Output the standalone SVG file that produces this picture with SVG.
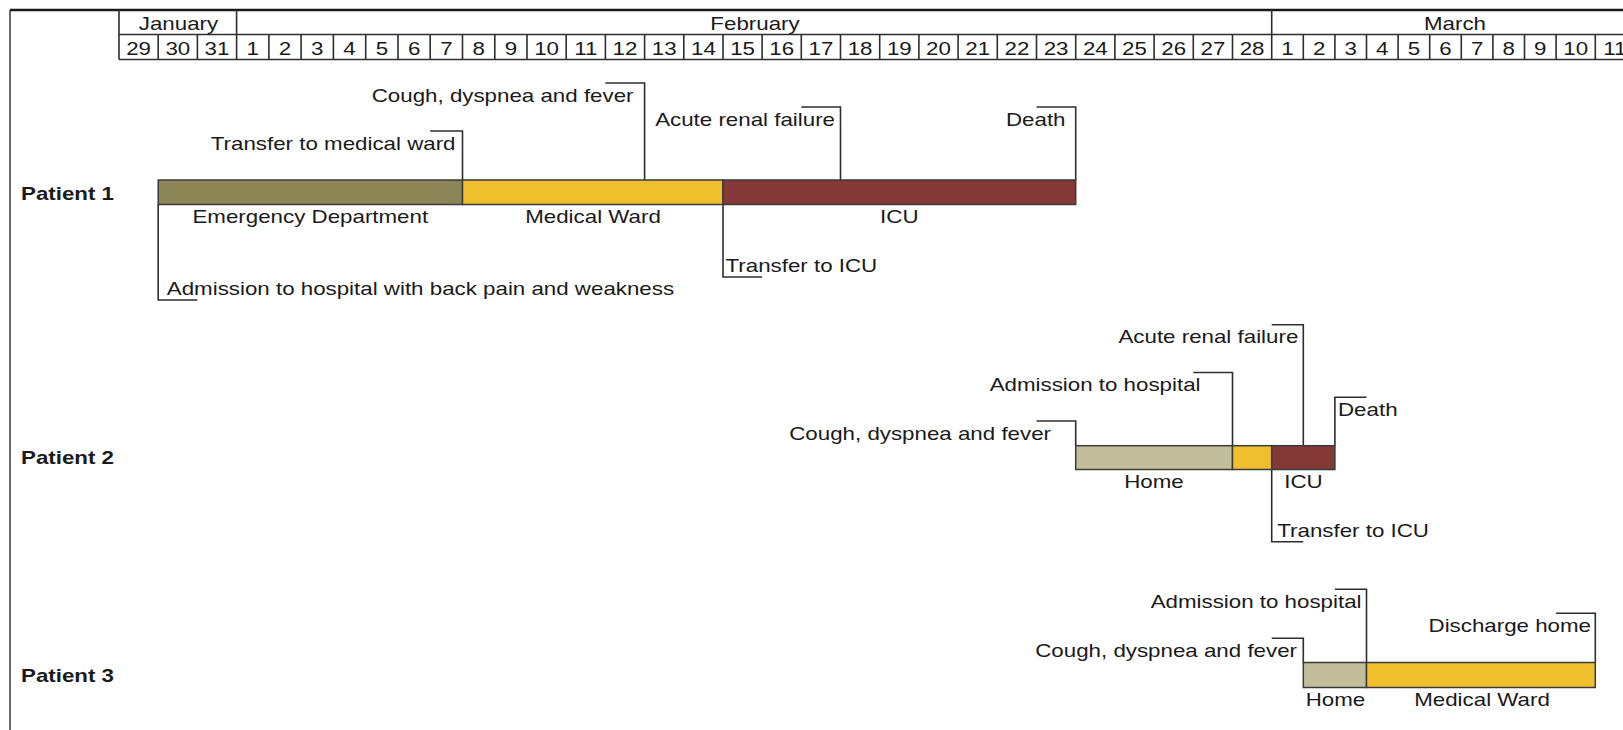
<svg xmlns="http://www.w3.org/2000/svg" width="1623" height="730" viewBox="0 0 1623 730">
<style>
text{font-family:"Liberation Sans",Arial,sans-serif;font-size:19px;fill:#1a1a1a}
.b{font-weight:bold}
.m{text-anchor:middle}
.e{text-anchor:end}
.ln{fill:none;stroke:#2e2e2e;stroke-width:1.6}
.bar{stroke:#3a3a3a;stroke-width:1.5}
.ed{fill:#8C8656}.mw{fill:#F0BF2E}.icu{fill:#843838}.home{fill:#C2BD9A}
</style>
<rect width="1623" height="730" fill="#fff"/>
<g id="frame">
<path d="M10 10V730" stroke="#6a6a6a" stroke-width="2" fill="none"/>
<path d="M10 10H1623" stroke="#1a1a1a" stroke-width="2.5" fill="none"/>
</g>
<g id="header">
<path class="ln" d="M119 10V59.5M236.6 10V59.5M1271.7 10V59.5M119 34.5H1623M119 59.5H1623"/>
<path class="ln" d="M158.2 34.5V59.5M197.4 34.5V59.5M268.9 34.5V59.5M301.1 34.5V59.5M333.4 34.5V59.5M365.7 34.5V59.5M398 34.5V59.5M430.2 34.5V59.5M462.5 34.5V59.5M494.8 34.5V59.5M527 34.5V59.5M566.2 34.5V59.5M605.4 34.5V59.5M644.6 34.5V59.5M683.8 34.5V59.5M723 34.5V59.5M762.1 34.5V59.5M801.3 34.5V59.5M840.5 34.5V59.5M879.7 34.5V59.5M918.9 34.5V59.5M958.1 34.5V59.5M997.3 34.5V59.5M1036.5 34.5V59.5M1075.7 34.5V59.5M1114.9 34.5V59.5M1154.1 34.5V59.5M1193.3 34.5V59.5M1232.5 34.5V59.5M1303.3 34.5V59.5M1334.9 34.5V59.5M1366.5 34.5V59.5M1398.1 34.5V59.5M1429.7 34.5V59.5M1461.3 34.5V59.5M1492.9 34.5V59.5M1524.5 34.5V59.5M1556.1 34.5V59.5M1595.3 34.5V59.5"/>
<text class="m" transform="translate(178.5 29.5) scale(1.175 1)">January</text>
<text class="m" transform="translate(755 29.5) scale(1.175 1)">February</text>
<text class="m" transform="translate(1455 29.5) scale(1.175 1)">March</text>
<g class="days">
<text class="m" transform="translate(138.6 55) scale(1.175 1)">29</text>
<text class="m" transform="translate(177.8 55) scale(1.175 1)">30</text>
<text class="m" transform="translate(217 55) scale(1.175 1)">31</text>
<text class="m" transform="translate(252.75 55) scale(1.175 1)">1</text>
<text class="m" transform="translate(285 55) scale(1.175 1)">2</text>
<text class="m" transform="translate(317.25 55) scale(1.175 1)">3</text>
<text class="m" transform="translate(349.55 55) scale(1.175 1)">4</text>
<text class="m" transform="translate(381.85 55) scale(1.175 1)">5</text>
<text class="m" transform="translate(414.1 55) scale(1.175 1)">6</text>
<text class="m" transform="translate(446.35 55) scale(1.175 1)">7</text>
<text class="m" transform="translate(478.65 55) scale(1.175 1)">8</text>
<text class="m" transform="translate(510.9 55) scale(1.175 1)">9</text>
<text class="m" transform="translate(546.6 55) scale(1.175 1)">10</text>
<text class="m" transform="translate(585.8 55) scale(1.175 1)">11</text>
<text class="m" transform="translate(625 55) scale(1.175 1)">12</text>
<text class="m" transform="translate(664.2 55) scale(1.175 1)">13</text>
<text class="m" transform="translate(703.4 55) scale(1.175 1)">14</text>
<text class="m" transform="translate(742.55 55) scale(1.175 1)">15</text>
<text class="m" transform="translate(781.7 55) scale(1.175 1)">16</text>
<text class="m" transform="translate(820.9 55) scale(1.175 1)">17</text>
<text class="m" transform="translate(860.1 55) scale(1.175 1)">18</text>
<text class="m" transform="translate(899.3 55) scale(1.175 1)">19</text>
<text class="m" transform="translate(938.5 55) scale(1.175 1)">20</text>
<text class="m" transform="translate(977.7 55) scale(1.175 1)">21</text>
<text class="m" transform="translate(1016.9 55) scale(1.175 1)">22</text>
<text class="m" transform="translate(1056.1 55) scale(1.175 1)">23</text>
<text class="m" transform="translate(1095.3 55) scale(1.175 1)">24</text>
<text class="m" transform="translate(1134.5 55) scale(1.175 1)">25</text>
<text class="m" transform="translate(1173.7 55) scale(1.175 1)">26</text>
<text class="m" transform="translate(1212.9 55) scale(1.175 1)">27</text>
<text class="m" transform="translate(1252.1 55) scale(1.175 1)">28</text>
<text class="m" transform="translate(1287.5 55) scale(1.175 1)">1</text>
<text class="m" transform="translate(1319.1 55) scale(1.175 1)">2</text>
<text class="m" transform="translate(1350.7 55) scale(1.175 1)">3</text>
<text class="m" transform="translate(1382.3 55) scale(1.175 1)">4</text>
<text class="m" transform="translate(1413.9 55) scale(1.175 1)">5</text>
<text class="m" transform="translate(1445.5 55) scale(1.175 1)">6</text>
<text class="m" transform="translate(1477.1 55) scale(1.175 1)">7</text>
<text class="m" transform="translate(1508.7 55) scale(1.175 1)">8</text>
<text class="m" transform="translate(1540.3 55) scale(1.175 1)">9</text>
<text class="m" transform="translate(1575.7 55) scale(1.175 1)">10</text>
<text class="m" transform="translate(1614.9 55) scale(1.175 1)">11</text>
</g>
</g>
<g id="connectors">
<path class="ln" d="M605.4 83H644.6V180"/>
<path class="ln" d="M430.2 131H462.5V180"/>
<path class="ln" d="M801.3 107H840.5V180"/>
<path class="ln" d="M1036.5 107H1075.7V180"/>
<path class="ln" d="M723 204.5V277H762.1"/>
<path class="ln" d="M158.2 204.5V300H197.4"/>
<path class="ln" d="M1036.5 421H1075.7V445.7"/>
<path class="ln" d="M1193.3 372.5H1232.5V445.7"/>
<path class="ln" d="M1271.7 324.7H1303.3V445.7"/>
<path class="ln" d="M1366.5 397.3H1334.9V445.7"/>
<path class="ln" d="M1271.7 469.5V541.7H1303.3"/>
<path class="ln" d="M1271.7 638.3H1303.3V662.5"/>
<path class="ln" d="M1334.9 589.3H1366.5V662.5"/>
<path class="ln" d="M1556.1 613.3H1595.3V662.5"/>
</g>
<g id="patient1">
<text class="b" transform="translate(21 199.5) scale(1.175 1)">Patient 1</text>
<rect class="bar ed" x="158.2" y="180" width="304.3" height="24.5"/>
<rect class="bar mw" x="462.5" y="180" width="260.5" height="24.5"/>
<rect class="bar icu" x="723" y="180" width="352.7" height="24.5"/>
<text class="m" transform="translate(310.3 223.3) scale(1.175 1)">Emergency Department</text>
<text class="m" transform="translate(593 223.3) scale(1.175 1)">Medical Ward</text>
<text class="m" transform="translate(899.3 223.3) scale(1.175 1)">ICU</text>
<text class="e" transform="translate(633.5 101.5) scale(1.175 1)">Cough, dyspnea and fever</text>
<text class="e" transform="translate(455.5 149.5) scale(1.175 1)">Transfer to medical ward</text>
<text class="e" transform="translate(835 125.5) scale(1.175 1)">Acute renal failure</text>
<text class="e" transform="translate(1065.5 125.5) scale(1.175 1)">Death</text>
<text transform="translate(725.5 272) scale(1.175 1)">Transfer to ICU</text>
<text transform="translate(166.8 295) scale(1.175 1)">Admission to hospital with back pain and weakness</text>
</g>
<g id="patient2">
<text class="b" transform="translate(21 464) scale(1.175 1)">Patient 2</text>
<rect class="bar home" x="1075.7" y="445.7" width="156.8" height="23.8"/>
<rect class="bar mw" x="1232.5" y="445.7" width="39.2" height="23.8"/>
<rect class="bar icu" x="1271.7" y="445.7" width="63.2" height="23.8"/>
<text class="m" transform="translate(1154 488) scale(1.175 1)">Home</text>
<text class="m" transform="translate(1303.5 488) scale(1.175 1)">ICU</text>
<text class="e" transform="translate(1051 439.5) scale(1.175 1)">Cough, dyspnea and fever</text>
<text class="e" transform="translate(1200.5 391.2) scale(1.175 1)">Admission to hospital</text>
<text class="e" transform="translate(1298.3 343.3) scale(1.175 1)">Acute renal failure</text>
<text transform="translate(1338 416) scale(1.175 1)">Death</text>
<text transform="translate(1277.3 536.7) scale(1.175 1)">Transfer to ICU</text>
</g>
<g id="patient3">
<text class="b" transform="translate(21 681.5) scale(1.175 1)">Patient 3</text>
<rect class="bar home" x="1303.3" y="662.5" width="63.2" height="25"/>
<rect class="bar mw" x="1366.5" y="662.5" width="228.8" height="25"/>
<text class="m" transform="translate(1335.5 706) scale(1.175 1)">Home</text>
<text class="m" transform="translate(1482 706) scale(1.175 1)">Medical Ward</text>
<text class="e" transform="translate(1297 656.8) scale(1.175 1)">Cough, dyspnea and fever</text>
<text class="e" transform="translate(1361.5 608) scale(1.175 1)">Admission to hospital</text>
<text class="e" transform="translate(1591 632) scale(1.175 1)">Discharge home</text>
</g>
</svg>
